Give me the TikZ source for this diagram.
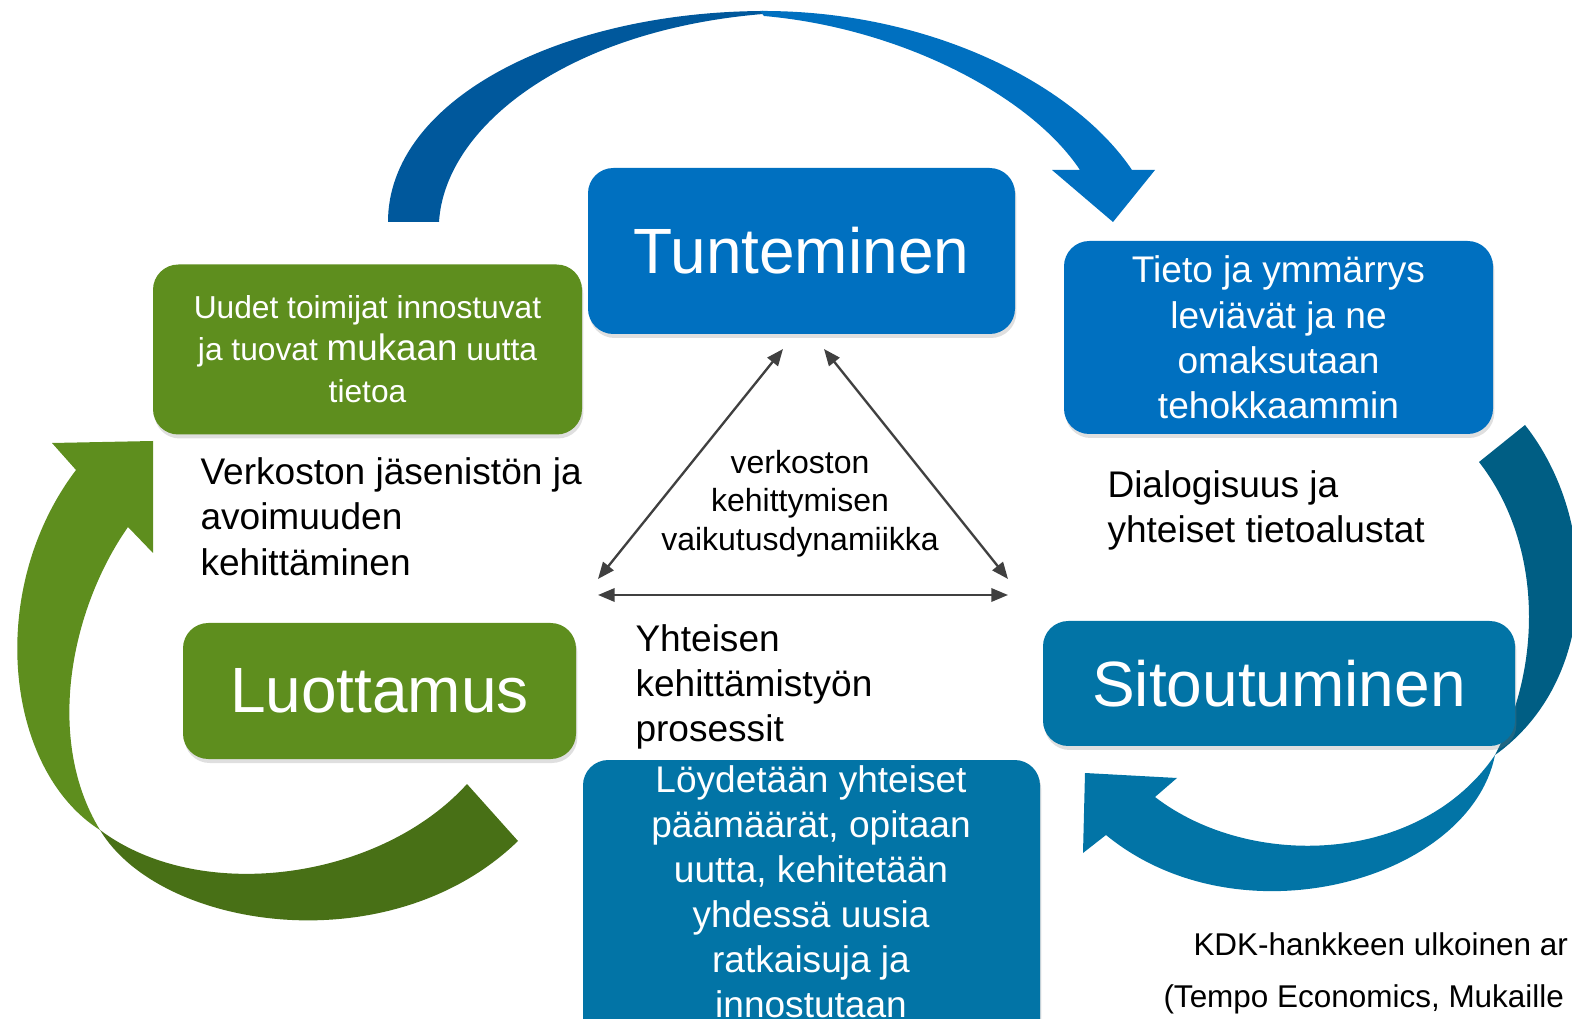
\documentclass[tikz,border=0pt]{standalone}
\usepackage{fontspec}
\setmainfont{Liberation Sans}
\usetikzlibrary{arrows.meta,shadows}

\definecolor{tunBlue}{RGB}{0,112,192}
\definecolor{tunBlueDark}{RGB}{0,88,156}
\definecolor{sitBlue}{RGB}{2,116,166}
\definecolor{sitBlueDark}{RGB}{0,94,132}
\definecolor{luoGreen}{RGB}{94,142,30}
\definecolor{luoGreenDark}{RGB}{72,112,22}
\definecolor{dynGray}{RGB}{64,64,64}

\tikzset{every picture/.style={line width=0.75pt}}
\tikzset{
  box/.style={rounded corners=19pt, inner sep=0pt, align=center, text=white,
    drop shadow={shadow xshift=1pt, shadow yshift=-3pt, opacity=0.25}},
  bigtext/.style={font=\fontsize{48}{55}\selectfont},
  note/.style={inner sep=0pt, align=left, text=black, font=\fontsize{27.8}{34}\selectfont},
  dyn/.style={draw=dynGray, line width=1.75pt,
    {Triangle[length=12.5pt,width=10pt]}-{Triangle[length=12.5pt,width=10pt]}}
}

\begin{document}
\begin{tikzpicture}[x=0.75pt,y=0.75pt,yscale=-1,xscale=1]
	\useasboundingbox (0,0) rectangle (1572,1019);
	\clip (0,0) rectangle (1572,1019);
	
	%Shape: Curved Arrow top, back half
	\fill [tunBlueDark] (388,222) .. controls (388,100) and (560,12) .. (763,11) -- (763,14) .. controls (570,30) and (445,125) .. (439,222) -- cycle ;
	%Shape: Curved Arrow top, front half
	\fill [tunBlue] (760,11) .. controls (930,10) and (1075,85) .. (1132,170) -- (1155,170) -- (1113,222) -- (1052,170) -- (1080,170) .. controls (1030,95) and (900,28) .. (764,16) -- cycle ;
	
	%Shape: Curved Arrow right, back half
	\fill [sitBlueDark] (1479,462) -- (1525,425) .. controls (1600,520) and (1600,680) .. (1495,755) .. controls (1545,660) and (1540,540) .. (1479,462) -- cycle ;
	%Shape: Curved Arrow right, front half
	\fill [sitBlue] (1085,773) -- (1177,778) -- (1155,797) .. controls (1250,870) and (1420,865) .. (1495,755) .. controls (1470,880) and (1240,945) .. (1106,835) -- (1083,853) -- cycle ;
	
	%Shape: Curved Arrow left, front half
	\fill [luoGreen] (52,443) -- (153,441) -- (153,553) -- (128,527) .. controls (70,610) and (45,740) .. (100,830) .. controls (5,770) and (-15,590) .. (76,470) -- cycle ;
	%Shape: Curved Arrow left, back half
	\fill [luoGreenDark] (100,830) .. controls (160,930) and (390,965) .. (518,841) -- (467,784) .. controls (380,880) and (200,905) .. (100,830) -- cycle ;
	
	%Shape: Rounded Rectangles
	\node [box, fill=tunBlue, bigtext, minimum width=320.25pt, minimum height=124.5pt] (tunteminen) at (801.5,251) {Tunteminen};
	\node [box, fill=tunBlue, font=\fontsize{27.8}{34}\selectfont, minimum width=321.75pt, minimum height=144.75pt] (tieto) at (1278.5,337.5) {Tieto ja ymmärrys\\leviävät ja ne\\omaksutaan\\tehokkaammin};
	\node [box, fill=luoGreen, font=\fontsize{23.8}{31.5}\selectfont, minimum width=321.75pt, minimum height=127.5pt] (uudet) at (367.5,349.5) {Uudet toimijat innostuvat\\ja tuovat {\fontsize{27.6}{31.5}\selectfont mukaan} uutta\\tietoa};
	\node [box, fill=luoGreen, bigtext, minimum width=294.75pt, minimum height=102pt] (luottamus) at (379.5,691) {Luottamus};
	\node [box, fill=sitBlue, bigtext, minimum width=354pt, minimum height=93.75pt] (sitoutuminen) at (1279,683.5) {Sitoutuminen};
	\node [box, fill=sitBlue, minimum width=342.75pt, minimum height=240pt] (loydetaan) at (811.5,920) {};
	
	% Text Node
	\node [inner sep=0pt, align=center, text=white, font=\fontsize{27.8}{33.7}\selectfont] (loydText) at (811,891.5) {Löydetään yhteiset\\päämäärät, opitaan\\uutta, kehitetään\\yhdessä uusia\\ratkaisuja ja\\innostutaan};
	% Text Node
	\node [note, anchor=west] (jasenisto) at (200,516.5) {Verkoston jäsenistön ja\\avoimuuden\\kehittäminen};
	% Text Node
	\node [note, anchor=west] (dialogi) at (1107,510.5) {Dialogisuus ja\\yhteiset tietoalustat};
	% Text Node
	\node [note, anchor=west] (prosessit) at (635,687) {Yhteisen\\kehittämistyön\\prosessit};
	% Text Node
	\node [inner sep=0pt, align=center, font=\fontsize{24}{29}\selectfont] (dynamiikka) at (800,503.5) {verkoston\\kehittymisen\\vaikutusdynamiikka};
	% Text Node
	\node [inner sep=0pt, anchor=west, font=\fontsize{23.6}{28}\selectfont] (lahde1) at (1193,944) {KDK-hankkeen ulkoinen ar};
	\node [inner sep=0pt, anchor=west, font=\fontsize{23.6}{28}\selectfont] (lahde2) at (1163,999) {(Tempo Economics, Mukaille};
	
	%Straight Lines: triangle
	\coordinate (dynTopL) at (783,349);
	\coordinate (dynTopR) at (824,349);
	\coordinate (dynLeftA) at (598,579);
	\coordinate (dynRightA) at (1008,579);
	\coordinate (dynLeftB) at (598,595);
	\coordinate (dynRightB) at (1008,595);
	\draw [dyn] (dynTopL) -- (dynLeftA) ;
	\draw [dyn] (dynTopR) -- (dynRightA) ;
	\draw [dyn] (dynLeftB) -- (dynRightB) ;
	
\end{tikzpicture}
\end{document}
